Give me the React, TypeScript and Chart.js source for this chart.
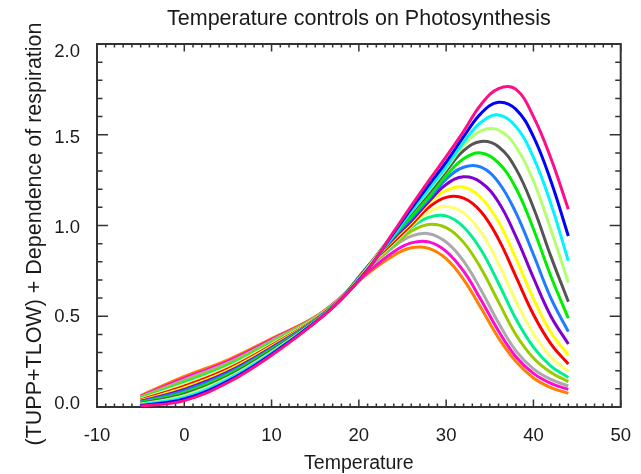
import { useEffect, useRef } from 'react';
import { Chart, registerables } from 'chart.js';

Chart.register(...registerables);

// Temperature (x) sample points
const temperature = [-5, 0, 5, 10, 15, 18, 21, 24, 26, 28, 30, 32, 34, 36, 38, 40, 42, 44];

// Curves, from the highest peak to the lowest peak
const pink = [0.004, 0.035, 0.135, 0.285, 0.465, 0.593, 0.754, 0.966, 1.108, 1.246, 1.379, 1.519, 1.667, 1.754, 1.75, 1.6, 1.37, 1.09];
const blue = [0.008, 0.044, 0.143, 0.291, 0.467, 0.594, 0.757, 0.959, 1.093, 1.223, 1.349, 1.489, 1.618, 1.679, 1.64, 1.49, 1.245, 0.942];
const cyan = [0.012, 0.053, 0.152, 0.297, 0.469, 0.595, 0.756, 0.949, 1.078, 1.2, 1.323, 1.458, 1.569, 1.609, 1.545, 1.375, 1.12, 0.805];
const lightGreen = [0.016, 0.062, 0.16, 0.303, 0.471, 0.596, 0.766, 0.956, 1.076, 1.191, 1.313, 1.442, 1.522, 1.526, 1.434, 1.245, 0.977, 0.686];
const darkGray = [0.02, 0.07, 0.168, 0.31, 0.474, 0.597, 0.772, 0.956, 1.069, 1.179, 1.3, 1.412, 1.463, 1.434, 1.312, 1.098, 0.83, 0.58];
const green = [0.024, 0.079, 0.177, 0.316, 0.476, 0.598, 0.77, 0.944, 1.05, 1.156, 1.274, 1.368, 1.4, 1.345, 1.205, 0.981, 0.72, 0.489];
const azure = [0.028, 0.088, 0.185, 0.322, 0.478, 0.599, 0.772, 0.938, 1.038, 1.144, 1.256, 1.321, 1.321, 1.238, 1.07, 0.84, 0.6, 0.415];
const purple = [0.032, 0.097, 0.193, 0.328, 0.48, 0.6, 0.773, 0.93, 1.025, 1.131, 1.226, 1.268, 1.237, 1.128, 0.939, 0.712, 0.5, 0.347];
const yellow = [0.035, 0.106, 0.202, 0.334, 0.482, 0.601, 0.774, 0.923, 1.017, 1.121, 1.193, 1.212, 1.153, 1.02, 0.817, 0.597, 0.41, 0.286];
const red = [0.039, 0.115, 0.21, 0.34, 0.484, 0.602, 0.772, 0.911, 1.003, 1.1, 1.155, 1.151, 1.076, 0.925, 0.718, 0.51, 0.348, 0.237];
const lightYellow = [0.043, 0.124, 0.218, 0.346, 0.486, 0.603, 0.771, 0.904, 0.997, 1.074, 1.104, 1.068, 0.963, 0.79, 0.584, 0.405, 0.275, 0.195];
const springGreen = [0.047, 0.133, 0.227, 0.352, 0.488, 0.604, 0.77, 0.899, 0.989, 1.045, 1.053, 0.992, 0.865, 0.682, 0.485, 0.33, 0.225, 0.163];
const olive = [0.051, 0.141, 0.235, 0.359, 0.491, 0.605, 0.764, 0.89, 0.968, 1.006, 0.988, 0.907, 0.763, 0.579, 0.398, 0.27, 0.19, 0.14];
const gray = [0.055, 0.15, 0.243, 0.365, 0.493, 0.606, 0.76, 0.883, 0.941, 0.955, 0.909, 0.804, 0.644, 0.464, 0.309, 0.21, 0.152, 0.116];
const magenta = [0.059, 0.159, 0.252, 0.371, 0.495, 0.606, 0.742, 0.856, 0.904, 0.91, 0.858, 0.748, 0.59, 0.419, 0.277, 0.185, 0.13, 0.097];
const orange = [0.063, 0.168, 0.26, 0.377, 0.497, 0.607, 0.734, 0.835, 0.877, 0.874, 0.817, 0.702, 0.545, 0.381, 0.25, 0.16, 0.107, 0.075];

const seriesList = [pink, blue, cyan, lightGreen, darkGray, green, azure, purple, yellow, red, lightYellow, springGreen, olive, gray, magenta, orange];
const seriesNames = ['pink', 'blue', 'cyan', 'light green', 'dark gray', 'green', 'azure', 'purple', 'yellow', 'red', 'light yellow', 'spring green', 'olive', 'gray', 'magenta', 'orange'];
const seriesColors = ['#FF0F87', '#0000FF', '#00F5FF', '#B4FF6E', '#555555', '#00EE00', '#1E7DFF', '#8000D0', '#FFFF00', '#FF0000', '#FFFF70', '#00F090', '#99CC00', '#AAAAAA', '#FF0AD2', '#FF8000'];

const xTicks = [-10, 0, 10, 20, 30, 40, 50];
const yTicks = [0, 0.5, 1.0, 1.5, 2.0];

const chartTitle = 'Temperature controls on Photosynthesis';
const xTitle = 'Temperature';
const yTitle = '(TUPP+TLOW) + Dependence of respiration';

const FONT = '"Liberation Sans", Arial, Helvetica, sans-serif';
const TEXT = '#1a1a1a';
const AXIS = '#333333';

// vertical nudge (px) of each y tick label relative to its tick, as in the original
const yLabelNudge: Record<string, number> = { '2.0': 8, '1.5': 3, '1.0': 2, '0.5': 1, '0.0': -3 };

const boxPlugin = {
  id: 'idlBox',
  beforeDatasetsDraw(chart: any) {
    const { ctx, chartArea } = chart;
    const { left, right, top, bottom } = chartArea;
    const xs = chart.scales.x;
    const ys = chart.scales.y;
    ctx.save();
    ctx.strokeStyle = AXIS;
    ctx.lineWidth = 1.5;
    ctx.beginPath();
    for (let k = 0; k <= 60; k++) {
      const v = -10 + k;
      const px = xs.getPixelForValue(v);
      const len = k % 10 === 0 ? 7.5 : 3.5;
      ctx.moveTo(px, bottom);
      ctx.lineTo(px, bottom - len);
      ctx.moveTo(px, top);
      ctx.lineTo(px, top + len);
    }
    for (let k = 0; k <= 20; k++) {
      const v = k / 10;
      const py = ys.getPixelForValue(v);
      const len = k % 5 === 0 ? 11 : 5.5;
      ctx.moveTo(left, py);
      ctx.lineTo(left + len, py);
      ctx.moveTo(right, py);
      ctx.lineTo(right - len, py);
    }
    ctx.stroke();
    ctx.lineWidth = 2;
    ctx.strokeRect(left, top, right - left, bottom - top);
    ctx.restore();
  },
  afterDraw(chart: any) {
    const { ctx, chartArea } = chart;
    ctx.save();
    ctx.fillStyle = TEXT;
    ctx.font = `21.5px ${FONT}`;
    ctx.textAlign = 'center';
    ctx.textBaseline = 'alphabetic';
    ctx.fillText(chartTitle, (chartArea.left + chartArea.right) / 2, 25);
    ctx.translate(35, 234);
    ctx.rotate(-Math.PI / 2);
    ctx.textBaseline = 'middle';
    ctx.fillText(yTitle, 0, 0);
    ctx.restore();
  },
};

export default function App() {
  const canvasRef = useRef<HTMLCanvasElement | null>(null);

  useEffect(() => {
    const canvas = canvasRef.current;
    if (!canvas) return;
    const datasets = seriesList.map((s, i) => ({
      label: seriesNames[i],
      data: temperature.map((t, j) => ({ x: t, y: s[j] })),
      borderColor: seriesColors[i],
      backgroundColor: seriesColors[i],
      borderWidth: 3,
      pointRadius: 0,
      fill: false,
      tension: 0.4,
    }));
    const chart = new Chart(canvas, {
      type: 'line',
      data: { datasets },
      options: {
        responsive: false,
        animation: false,
        layout: { padding: { left: 0, right: 18, top: 44, bottom: 0 } },
        plugins: {
          legend: { display: false },
          title: { display: false },
          tooltip: { enabled: false },
        },
        scales: {
          x: {
            type: 'linear',
            min: -10,
            max: 50,
            afterBuildTicks: (s: any) => {
              s.ticks = xTicks.map((v) => ({ value: v }));
            },
            afterFit: (s: any) => {
              s.height = 67;
            },
            grid: { display: false },
            border: { display: false },
            ticks: {
              padding: 10,
              autoSkip: false,
              maxRotation: 0,
              color: TEXT,
              font: { family: FONT, size: 18.5 },
              callback: (v: any) => String(v),
            },
            title: {
              display: true,
              text: xTitle,
              color: TEXT,
              font: { family: FONT, size: 19.5, lineHeight: 1 },
              padding: { top: 0, bottom: 1 },
            },
          },
          y: {
            type: 'linear',
            min: 0,
            max: 2,
            afterBuildTicks: (s: any) => {
              s.ticks = yTicks.map((v) => ({ value: v }));
            },
            afterFit: (s: any) => {
              s.width = 97;
            },
            grid: { display: false },
            border: { display: false },
            ticks: {
              padding: 9,
              autoSkip: false,
              color: TEXT,
              font: (c: any) => {
                const key = c && c.tick ? Number(c.tick.value).toFixed(1) : '';
                const n = Math.abs(yLabelNudge[key] || 0);
                return { family: FONT, size: 18.5, lineHeight: n ? (2 * n) / 18.5 : 1.2 };
              },
              callback: (v: any) => {
                const s = Number(v).toFixed(1);
                const n = yLabelNudge[s] || 0;
                if (n > 0) return ['', s];
                if (n < 0) return [s, ''];
                return s;
              },
            },
            title: { display: false },
          },
        },
      },
      plugins: [boxPlugin],
    });
    return () => chart.destroy();
  }, []);

  return (
    <div style={{ position: 'absolute', left: 0, top: 0, width: 641, height: 474, background: '#fff' }}>
      <canvas ref={canvasRef} width={641} height={474} style={{ display: 'block' }} />
    </div>
  );
}
